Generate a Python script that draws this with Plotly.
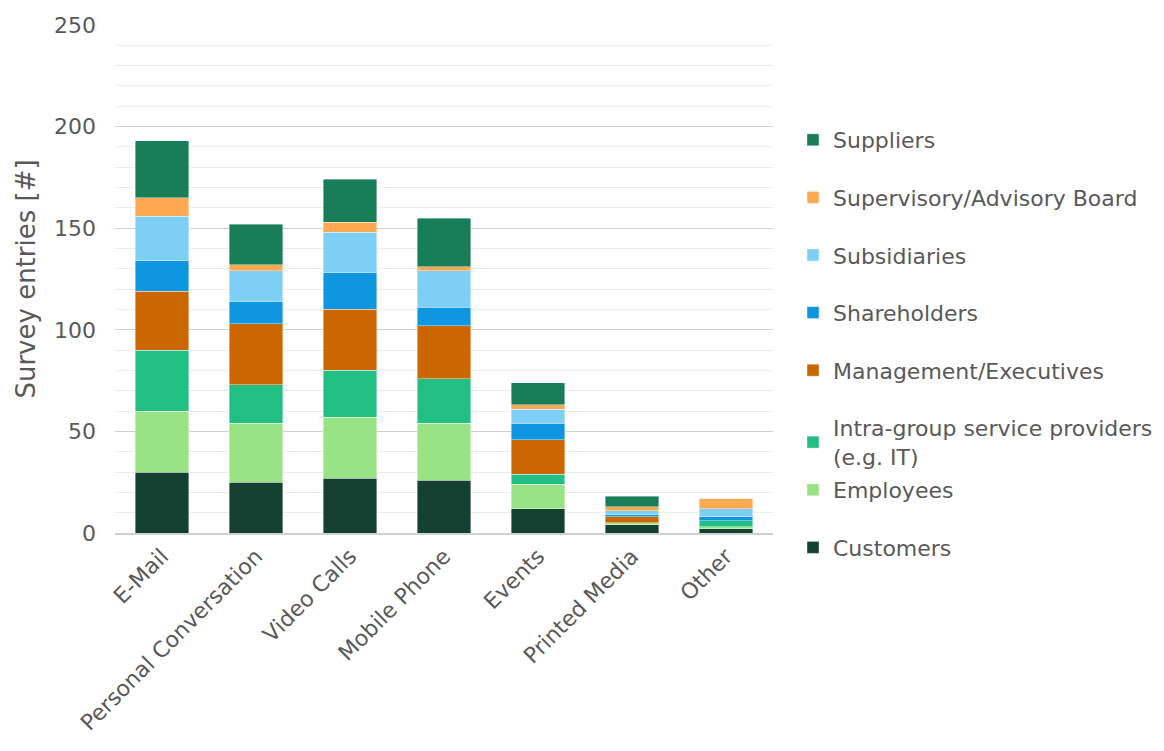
import plotly.graph_objects as go

categories = ["E-Mail", "Personal Conversation", "Video Calls", "Mobile Phone",
              "Events", "Printed Media", "Other"]

customers    = [30, 25, 27, 26, 12, 4, 2]
employees    = [30, 29, 30, 28, 12, 1, 1]
intra_group  = [30, 19, 23, 22, 5, 0, 3]
management   = [29, 30, 30, 26, 17, 3, 0]
shareholders = [15, 11, 18, 9, 8, 1, 2]
subsidiaries = [22, 15, 20, 18, 7, 2, 4]
supervisory  = [9, 3, 5, 2, 2, 2, 5]
suppliers    = [28, 20, 21, 24, 11, 5, 0]

series = [
    ("Customers", customers, "#134031", "legend2"),
    ("Employees", employees, "#98e484", "legend2"),
    ("Intra-group service providers<br>(e.g. IT)", intra_group, "#21bf84", "legend"),
    ("Management/Executives", management, "#cc6600", "legend"),
    ("Shareholders", shareholders, "#0f96e0", "legend"),
    ("Subsidiaries", subsidiaries, "#7dcff5", "legend"),
    ("Supervisory/Advisory Board", supervisory, "#fca952", "legend"),
    ("Suppliers", suppliers, "#187e58", "legend"),
]

FONT = "DejaVu Sans, Verdana, sans-serif"
GREY = "#595959"
W, H = 1164, 751

fig = go.Figure()
n = len(series)
for i, (name, vals, color, leg) in enumerate(series):
    fig.add_trace(go.Bar(
        x=categories, y=vals, name=name,
        marker=dict(color=color, line=dict(color="rgba(255,255,255,0.5)", width=0.8)),
        legend=leg, legendgroup=name, legendrank=n - i,
    ))

legend_common = dict(
    font=dict(family=FONT, size=22, color=GREY),
    traceorder="grouped",
    tracegroupgap=26,
    xref="container", yref="container",
    xanchor="left", yanchor="top",
    bgcolor="rgba(0,0,0,0)",
)

fig.update_layout(
    barmode="stack",
    bargap=0.43,
    width=W, height=H,
    margin=dict(l=115, r=391, t=25, b=218),
    paper_bgcolor="white", plot_bgcolor="white",
    font=dict(family=FONT, size=22, color=GREY),
    showlegend=True,
    legend=dict(x=793 / W, y=1 - 119 / H, **legend_common),
    legend2=dict(x=793 / W, y=1 - 469 / H, **legend_common),
    yaxis=dict(
        range=[0, 250], dtick=50,
        showgrid=True, gridcolor="#d0d0d0", gridwidth=1,
        minor=dict(dtick=10, showgrid=True, gridcolor="#ebebeb", gridwidth=1),
        zeroline=False, showline=False,
        tickfont=dict(family=FONT, size=22, color=GREY),
        ticklabelstandoff=18,
        title=dict(text="Survey entries [#]", font=dict(family=FONT, size=26, color=GREY),
                   standoff=10),
    ),
    xaxis=dict(
        tickangle=-45,
        tickfont=dict(family=FONT, size=22, color=GREY),
        showline=True, linecolor="#d0d0d0", linewidth=1.5,
        showgrid=False,
    ),
)

fig.write_html("out.html")
